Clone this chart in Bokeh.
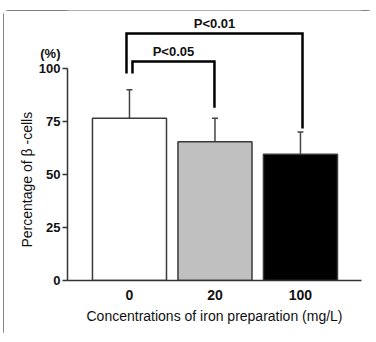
from bokeh.plotting import figure
from bokeh.models import (ColumnDataSource, Whisker, TeeHead, FixedTicker, Range1d,
                          Label, LinearAxis, Title)
from bokeh.embed import file_html
from bokeh.resources import INLINE

# ---- data ----
concentrations = ["0", "20", "100"]
percent_beta = [76.5, 65.5, 59.5]
upper_error = [90.0, 76.5, 70.0]
bar_colors = ["#ffffff", "#c0c0c0", "#000000"]
y_ticks = [0, 25, 50, 75, 100]
unit_label = "(%)"
comparison_labels = ["P<0.05", "P<0.01"]
comparison_pairs = [(0, 1), (0, 2)]

FONT = "Liberation Sans"
TXT = "#111111"
AX = "#333333"

xs = list(range(len(concentrations)))
src = ColumnDataSource(dict(x=xs, top=percent_beta, upper=upper_error, color=bar_colors))

p = figure(width=370, height=326, output_backend="svg", toolbar_location=None,
           x_range=Range1d(-0.725, 2.714), y_range=Range1d(0, 127.36),
           min_border_left=64, min_border_right=12, min_border_top=0, min_border_bottom=56,
           margin=(10, 3, 6, 3))
p.styles = {"outline": "1.5px solid #5a5a5a", "outline-offset": "-1.5px", "border-radius": "5px"}
p.outline_line_color = None
p.grid.visible = False
p.background_fill_color = "white"
p.border_fill_color = "white"

p.vbar(x="x", top="top", width=0.866, bottom=0, fill_color="color",
       line_color="#3a3a3a", line_width=1.5, source=src)

w = Whisker(source=src, base="x", upper="upper", lower="top",
            line_color="#444444", line_width=1.5,
            upper_head=TeeHead(size=6, line_color="#444444", line_width=1.5),
            lower_head=None)
p.add_layout(w)

# significance brackets
left_low = 97.6
bracket_tops = [103.3, 116.5]
right_lows = [upper_error[1] + 5.0, upper_error[2] + 1.7]
left_offsets = [0.035, -0.035]
right_offsets = [-0.006, 0.024]
bx, by = [], []
for (a, b), top, rl, lo, ro in zip(comparison_pairs, bracket_tops, right_lows, left_offsets, right_offsets):
    bx.append([xs[a] + lo, xs[a] + lo, xs[b] + ro, xs[b] + ro])
    by.append([left_low, top, top, rl])
p.multi_line(bx, by, line_color="black", line_width=2.5, line_join="miter")
for (a, b), top, lo, ro, lab in zip(comparison_pairs, bracket_tops, left_offsets, right_offsets, comparison_labels):
    p.add_layout(Label(x=(xs[a] + lo + xs[b] + ro) / 2, y=top + 4.8, text=lab,
                       text_font=FONT, text_font_style="bold", text_font_size="13px",
                       text_align="center", text_baseline="middle", text_color=TXT))

# y axis line + tick marks (0..100)
ya = p.yaxis[0]
ya.ticker = FixedTicker(ticks=y_ticks)
ya.bounds = (0, 100)
ya.major_tick_out = 5
ya.major_tick_in = 0
ya.minor_tick_line_color = None
ya.axis_line_color = AX
ya.axis_line_width = 1.5
ya.major_tick_line_color = AX
ya.major_tick_line_width = 1.5
ya.major_label_overrides = {t: "" for t in y_ticks}
ya.major_label_standoff = 0

# y tick labels and unit label
unit_pos = 107
ya2 = LinearAxis(ticker=FixedTicker(ticks=y_ticks + [unit_pos]),
                 major_label_overrides={unit_pos: unit_label},
                 axis_line_color=None, major_tick_line_color=None, minor_tick_line_color=None,
                 major_tick_out=0, major_tick_in=0, major_label_standoff=2,
                 major_label_text_font=FONT, major_label_text_font_style="bold",
                 major_label_text_font_size="13px", major_label_text_color=TXT)
p.add_layout(ya2, "left")

ytitle = Title(text="Percentage of β -cells", align="left", offset=33, standoff=1,
               text_font=FONT, text_font_style="normal", text_font_size="14px",
               text_color=TXT)
p.add_layout(ytitle, "left")

xa = p.xaxis[0]
xa.ticker = FixedTicker(ticks=xs)
xa.major_label_overrides = {i: c for i, c in zip(xs, concentrations)}
xa.major_tick_out = 0
xa.major_tick_in = 0
xa.minor_tick_line_color = None
xa.axis_line_color = AX
xa.axis_line_width = 1.5
xa.major_label_text_font = FONT
xa.major_label_text_font_style = "bold"
xa.major_label_text_font_size = "14px"
xa.major_label_text_color = TXT
xa.major_label_standoff = 9
xa.axis_label = "Concentrations of iron preparation (mg/L)"
xa.axis_label_text_font = FONT
xa.axis_label_text_font_style = "normal"
xa.axis_label_text_font_size = "14px"
xa.axis_label_text_color = TXT
xa.axis_label_standoff = 5

open("out.html", "w").write(file_html(p, INLINE))
